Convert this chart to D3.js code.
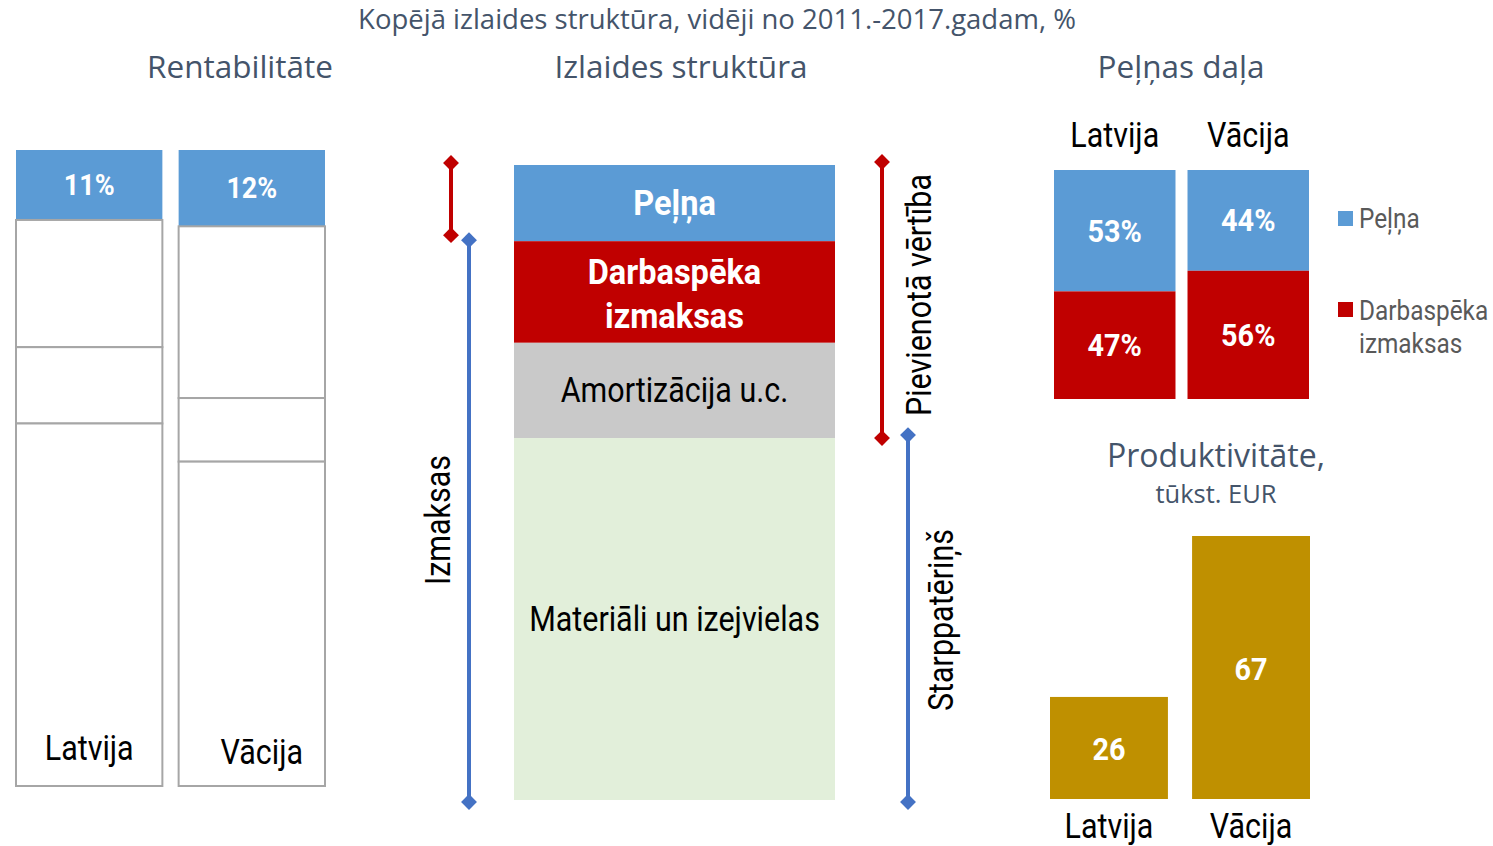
<!DOCTYPE html>
<html>
<head>
<meta charset="utf-8">
<script src="https://cdn.jsdelivr.net/npm/d3@7"></script>
<style>
  body { margin: 0; background: #fff; }
  svg { display: block; }
  .title { font-family: "Open Sans", Lato, sans-serif; fill: #44546A; }
  .nar { font-family: Roboto, "Liberation Sans", sans-serif; }
</style>
</head>
<body>
<svg width="1493" height="846"></svg>
<script>
// data
var countries = ["Latvija", "Vācija"];
var rentVals = [[11, 20, 12, 57], [12, 27, 10, 51]];
var outCats = ["Peļņa", "Darbaspēka izmaksas", "Amortizācija u.c.", "Materiāli un izejvielas"];
var outVals = [12, 16, 15, 57];
var shareCats = ["Peļņa", "Darbaspēka izmaksas"];
var shareVals = [[53, 47], [44, 56]];
var prodVals = [26, 67];

var blue = "#5B9BD5", red = "#C00000", gray = "#C9C9C9", green = "#E2EFDA", gold = "#BF9000";
var svg = d3.select("svg");

// narrow text: Roboto squeezed horizontally to look like Arial Narrow
function ntext(x, y, str, size, opt) {
  opt = opt || {};
  var bold = !!opt.bold;
  var sx = bold ? 0.93 : 0.87;
  var tr = "translate(" + x + "," + y + ")" + (opt.rot ? " rotate(-90)" : "") + " scale(" + sx + ",1)";
  var t = svg.append("text").attr("class", "nar").attr("transform", tr)
    .attr("text-anchor", opt.anchor || "middle").style("font-size", size + "px")
    .style("font-weight", bold ? "bold" : "normal").attr("fill", opt.fill || "#000");
  var lines = [].concat(str);
  lines.forEach(function(l, i) {
    t.append("tspan").attr("x", 0).attr("y", i * (opt.lh || 0)).text(l);
  });
  return t;
}

// titles
svg.append("text").attr("class", "title").attr("x", 717).attr("y", 29)
  .attr("text-anchor", "middle").style("font-size", "27.5px")
  .text("Kopējā izlaides struktūra, vidēji no 2011.-2017.gadam, %");
[["Rentabilitāte", 240], ["Izlaides struktūra", 681], ["Peļņas daļa", 1181]].forEach(function(t) {
  svg.append("text").attr("class", "title").attr("x", t[1]).attr("y", 78)
    .attr("text-anchor", "middle").style("font-size", "31.5px").text(t[0]);
});

// --- Rentabilitāte
var rx = d3.scaleBand().domain(countries).range([16, 325]).paddingInner(0.1);
var ry = d3.scaleLinear().domain([0, 100]).range([786, 150]);
countries.forEach(function(c, i) {
  var acc = 100;
  rentVals[i].forEach(function(v, j) {
    var top = acc, bot = acc - v; acc = bot;
    svg.append("rect").attr("x", rx(c)).attr("width", rx.bandwidth())
      .attr("y", ry(top)).attr("height", ry(bot) - ry(top))
      .attr("fill", j == 0 ? blue : "#fff")
      .attr("stroke", j == 0 ? "none" : "#A6A6A6").attr("stroke-width", 2);
    if (j == 0) {
      ntext(rx(c) + rx.bandwidth() / 2, (ry(top) + ry(bot)) / 2 + 10, v + "%", 29,
        { bold: true, fill: "#fff" });
    }
  });
  ntext(rx(c) + rx.bandwidth() / 2 + (i ? 10 : 0), 760 + i * 4, c, 35);
});

// --- Izlaides struktūra
var total = d3.sum(outVals);
var oy = d3.scaleLinear().domain([0, total]).range([800, 165]);
var cols = [blue, red, gray, green];
var ox0 = 514, ox1 = 835, oxm = (ox0 + ox1) / 2;
var acc = total;
outVals.forEach(function(v, j) {
  var top = acc, bot = acc - v; acc = bot;
  svg.append("rect").attr("x", ox0).attr("width", ox1 - ox0)
    .attr("y", oy(top)).attr("height", oy(bot) - oy(top)).attr("fill", cols[j]);
  var cy = (oy(top) + oy(bot)) / 2;
  var opt = { bold: j < 2, fill: j < 2 ? "#fff" : "#000" };
  if (j == 1) {
    opt.lh = 44;
    ntext(oxm, cy - 8, ["Darbaspēka", "izmaksas"], 35, opt);
  } else {
    ntext(oxm, cy + 12, outCats[j], 35, opt);
  }
});

function bracket(x, y0, y1, color) {
  svg.append("line").attr("x1", x).attr("x2", x).attr("y1", y0).attr("y2", y1)
    .attr("stroke", color).attr("stroke-width", 4);
  [y0, y1].forEach(function(y) {
    svg.append("path").attr("d", d3.symbol().type(d3.symbolDiamond2).size(160)())
      .attr("transform", "translate(" + x + "," + y + ")").attr("fill", color);
  });
}
var vAdded = outVals[0] + outVals[1] + outVals[2];
bracket(451, oy(total) - 2, oy(total - outVals[0]) - 6, red);
bracket(469, oy(total - outVals[0]) - 1, oy(0) + 2, "#4472C4");
ntext(450, 520, "Izmaksas", 35, { rot: true });
bracket(882, oy(total) - 3, oy(total - vAdded), red);
bracket(908, oy(total - vAdded) - 3, oy(0) + 2, "#4472C4");
ntext(931, 295, "Pievienotā vērtība", 35, { rot: true });
ntext(953, 620, "Starppatēriņš", 35, { rot: true });

// --- Peļņas daļa
var sx = d3.scaleBand().domain(countries).range([1054, 1309]).paddingInner(0.09);
var sy = d3.scaleLinear().domain([0, 100]).range([399, 170]);
countries.forEach(function(c, i) {
  var acc = 100;
  shareVals[i].forEach(function(v, j) {
    var top = acc, bot = acc - v; acc = bot;
    svg.append("rect").attr("x", sx(c)).attr("width", sx.bandwidth())
      .attr("y", sy(top)).attr("height", sy(bot) - sy(top)).attr("fill", j == 0 ? blue : red);
    ntext(sx(c) + sx.bandwidth() / 2, (sy(top) + sy(bot)) / 2 + 11, v + "%", 31,
      { bold: true, fill: "#fff" });
  });
  ntext(sx(c) + sx.bandwidth() / 2, 147, c, 35);
});
// legend
svg.append("rect").attr("x", 1338).attr("y", 211).attr("width", 15).attr("height", 15).attr("fill", blue);
ntext(1359, 228, shareCats[0], 28, { anchor: "start", fill: "#595959" });
svg.append("rect").attr("x", 1338).attr("y", 302).attr("width", 15).attr("height", 15).attr("fill", red);
ntext(1359, 320, ["Darbaspēka", "izmaksas"], 28, { anchor: "start", fill: "#595959", lh: 33 });

// --- Produktivitāte
svg.append("text").attr("class", "title").attr("x", 1216).attr("y", 467)
  .attr("text-anchor", "middle").style("font-size", "32px").text("Produktivitāte,");
svg.append("text").attr("class", "title").attr("x", 1216).attr("y", 503)
  .attr("text-anchor", "middle").style("font-size", "25.5px").text("tūkst. EUR");
var px = d3.scaleBand().domain(countries).range([1050, 1310]).paddingInner(0.17);
var py = d3.scaleLinear().domain([0, 67]).range([799, 536]);
countries.forEach(function(c, i) {
  svg.append("rect").attr("x", px(c)).attr("width", px.bandwidth())
    .attr("y", py(prodVals[i])).attr("height", py(0) - py(prodVals[i])).attr("fill", gold);
  ntext(px(c) + px.bandwidth() / 2, (py(prodVals[i]) + py(0)) / 2 + 12, prodVals[i], 31,
    { bold: true, fill: "#fff" });
  ntext(px(c) + px.bandwidth() / 2, 838, c, 35);
});
</script>
</body>
</html>
